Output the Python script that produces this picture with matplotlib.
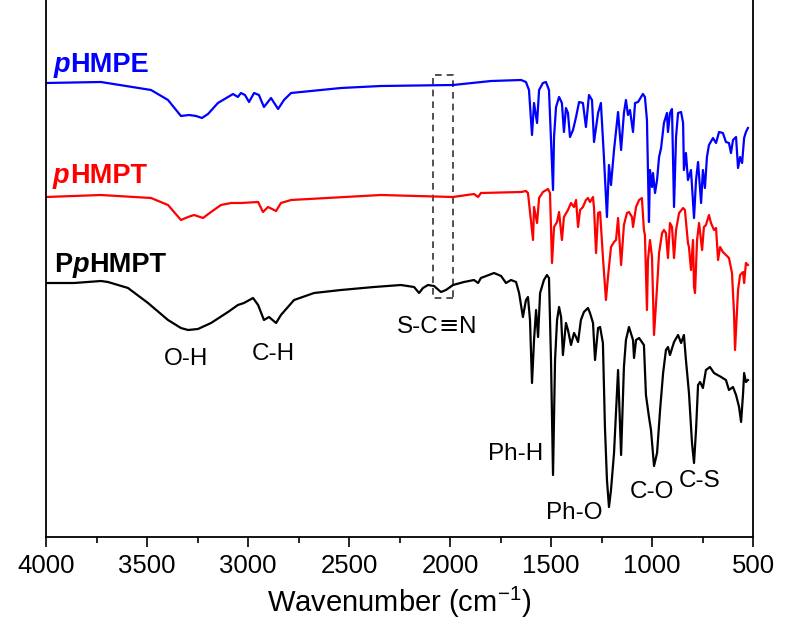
import matplotlib
matplotlib.use('Agg')
import matplotlib.pyplot as plt
from matplotlib.patches import Rectangle

plt.rcParams['font.family'] = ['Liberation Sans', 'DejaVu Sans']
plt.rcParams['mathtext.fontset'] = 'custom'
plt.rcParams['mathtext.rm'] = 'Liberation Sans'

# FTIR spectra, stacked (arbitrary transmittance units)
wn_phmpe = [4000, 3728, 3480, 3396, 3332, 3292, 3257, 3228, 3198, 3149, 3099, 3074, 3050,
            3035, 3015, 2995, 2970, 2946, 2921, 2886, 2851, 2822, 2787, 2540, 2342, 1985,
            1797, 1648, 1624, 1609, 1594, 1584, 1569, 1559, 1540, 1525, 1510, 1490, 1485,
            1475, 1460, 1446, 1436, 1426, 1416, 1406, 1391, 1376, 1361, 1342, 1327, 1312,
            1297, 1287, 1267, 1253, 1238, 1223, 1213, 1203, 1188, 1168, 1153, 1139, 1129,
            1119, 1109, 1094, 1084, 1069, 1054, 1045, 1035, 1025, 1015, 1010, 1000, 995,
            985, 975, 965, 955, 941, 926, 921, 911, 901, 891, 881, 871, 856, 846, 842, 832,
            822, 807, 792, 782, 772, 757, 748, 738, 728, 718, 698, 683, 668, 649, 634, 619,
            609, 599, 584, 574, 564, 554, 544, 535, 525]
t_phmpe = [454, 455, 447, 437, 421, 422, 421, 419, 423, 434, 440, 443, 440,
           444, 442, 435, 444, 442, 430, 439, 428, 437, 444, 449, 451, 452,
           456, 457, 455, 447, 402, 434, 414, 447, 454, 455, 447, 347, 400,
           430, 440, 434, 405, 429, 424, 400, 407, 420, 435, 434, 410, 442,
           437, 395, 424, 434, 380, 320, 372, 352, 387, 425, 387, 424, 437,
           422, 427, 405, 434, 435, 440, 443, 440, 417, 315, 367, 350, 364,
           344, 357, 380, 389, 414, 424, 405, 424, 428, 330, 400, 424, 425, 414, 367, 384,
           357, 367, 319, 357, 375, 334, 367, 349, 380, 392, 399, 394, 405, 404, 395, 394,
           384, 397, 400, 369, 380, 374, 399, 405, 409]

wn_phmpt = [4000, 3728, 3480, 3396, 3332, 3297, 3267, 3223, 3183, 3134, 3084, 3035, 2950,
            2926, 2901, 2861, 2837, 2787, 2342, 1985, 1881, 1861, 1847, 1648, 1624, 1614,
            1589, 1584, 1569, 1559, 1540, 1515, 1505, 1495, 1485, 1470, 1460, 1446, 1436,
            1416, 1401, 1386, 1376, 1366, 1356, 1342, 1327, 1317, 1307, 1292, 1287, 1277,
            1267, 1257, 1243, 1228, 1218, 1203, 1188, 1178, 1168, 1153, 1139, 1124, 1114,
            1099, 1094, 1079, 1064, 1050, 1040, 1035, 1025, 1020, 1010, 1000, 990, 975, 965,
            950, 941, 931, 921, 911, 901, 891, 881, 866, 846, 837, 822, 817, 807, 797, 792,
            787, 777, 767, 752, 743, 733, 718, 708, 693, 683, 673, 663, 649, 634, 619, 604,
            594, 589, 574, 564, 549, 544, 535, 525]
t_phmpt = [340, 342, 339, 332, 317, 320, 322, 319, 325, 332, 334, 334, 335,
           325, 330, 326, 334, 337, 342, 340, 343, 340, 344, 345, 346, 344,
           297, 330, 314, 339, 345, 348, 344, 274, 310, 315, 325, 297, 320,
           327, 334, 330, 337, 310, 327, 330, 337, 339, 335, 340, 329, 284,
           324, 325, 280, 237, 260, 290, 295, 297, 319, 272, 312, 324, 325,
           320, 310, 330, 337, 339, 307, 302, 227, 277, 297, 280, 202, 250, 284,
           304, 307, 304, 279, 314, 310, 279, 307, 324, 329, 327, 294, 290, 267, 297, 250,
           244, 297, 314, 287, 310, 312, 322, 314, 307, 309, 277, 290, 285, 282, 279, 264,
           224, 187, 247, 262, 265, 254, 274, 272]

wn_pphmpt = [4000, 3861, 3728, 3693, 3594, 3495, 3396, 3332, 3297, 3248, 3183, 3099, 3050,
             3020, 2975, 2950, 2921, 2896, 2861, 2837, 2772, 2673, 2540, 2376, 2243, 2178,
             2153, 2134, 2109, 2079, 2045, 2020, 1985, 1931, 1881, 1861, 1847, 1782, 1747,
             1723, 1698, 1673, 1658, 1639, 1624, 1614, 1604, 1594, 1584, 1574, 1564, 1554,
             1535, 1520, 1510, 1500, 1490, 1480, 1470, 1460, 1450, 1441, 1426, 1416, 1401,
             1386, 1376, 1366, 1352, 1337, 1317, 1307, 1292, 1282, 1267, 1257, 1243, 1233,
             1223, 1213, 1203, 1188, 1168, 1153, 1139, 1129, 1114, 1094, 1089, 1079, 1064,
             1040, 1030, 1015, 1005, 990, 975, 960, 945, 931, 921, 911, 891, 871, 856, 842,
             832, 817, 802, 792, 782, 772, 762, 748, 733, 713, 693, 658, 634, 619, 599, 584,
             569, 559, 549, 544, 535, 525]
t_pphmpt = [254, 254, 256, 255, 249, 234, 217, 209, 207, 208, 214, 225, 232,
            234, 239, 232, 217, 220, 214, 222, 237, 244, 247, 250, 252, 250,
            244, 249, 252, 251, 245, 247, 252, 255, 257, 254, 259, 264, 261,
            254, 257, 255, 244, 220, 237, 240, 217, 154, 197, 227, 200, 244,
            257, 262, 259, 177, 62, 177, 217, 230, 220, 182, 214, 207, 192,
            204, 200, 195, 217, 225, 229, 224, 214, 177, 209, 210, 194, 110,
            57, 30, 47, 84, 167, 82, 170, 197, 210, 197, 179, 197, 199,
            192, 142, 120, 107, 71, 84, 127, 164, 187, 190, 182, 195, 202, 194, 202,
            177, 144, 94, 74, 107, 152, 155, 149, 167, 170, 164, 160, 157, 147, 150, 142,
            130, 115, 144, 164, 155, 157]

names = [('p', 'HMPE'), ('p', 'HMPT'), ('P', 'p', 'HMPT')]
colors = ['#0000ff', '#ff0000', '#000000']

bands = ['O-H', 'C-H', 'Ph-H', 'Ph-O', 'C-O', 'C-S']
band_x = [3307, 2876, 1673, 1386, 1000, 762]
band_y = [178, 183, 83, 24, 45, 56]

box_x = (1985, 2085)
box_y = (239, 462)

fig = plt.figure(figsize=(7.86, 6.28), dpi=100)
ax = fig.add_axes([46 / 786, 91 / 628, 707 / 786, 537 / 628])

for wn, t, c in zip([wn_phmpe, wn_phmpt, wn_pphmpt], [t_phmpe, t_phmpt, t_pphmpt], colors):
    ax.plot(wn, t, color=c, lw=1.6)

ax.set_xlim(4000, 500)
ax.set_ylim(0, 537)
ax.set_xticks(range(4000, 499, -500))
ax.set_xticks(range(3750, 500, -500), minor=True)
ax.set_yticks([])
ax.tick_params(axis='x', which='major', direction='out', length=7, width=1.2, labelsize=18.5, pad=5)
ax.tick_params(axis='x', which='minor', direction='out', length=4, width=1.2)
ax.spines['top'].set_visible(False)
for s in ['left', 'right', 'bottom']:
    ax.spines[s].set_linewidth(1.3)
ax.set_xlabel('Wavenumber (cm$^{\\mathrm{-1}}$)', fontsize=21, labelpad=5)

# trace names: italic bold "p" inside bold text
label_pos = [(3962, 465), (3965, 354), (3960, 265)]
for (x, y), parts, c in zip(label_pos, names, colors):
    prev = None
    for part in parts:
        style = 'italic' if part == 'p' else 'normal'
        if prev is None:
            prev = ax.text(x, y, part, color=c, fontsize=19.5, fontweight='bold',
                           style=style, ha='left', va='baseline')
        else:
            prev = ax.annotate(part, xy=(1, 0), xycoords=prev, color=c, fontsize=19.5,
                               fontweight='bold', style=style, ha='left', va='bottom')

for lab, x, y in zip(bands, band_x, band_y):
    ax.text(x, y, lab, fontsize=17.5, ha='center', va='center')

# S-C≡N with a wide triple bond sign
t1 = ax.text(2262, 210, 'S-C', fontsize=17.5, ha='left', va='center')
t2 = ax.annotate('\u2261', xy=(1, 0), xycoords=t1, fontsize=17.5, family='DejaVu Sans',
                 ha='left', va='bottom')
ax.annotate('N', xy=(1, 0), xycoords=t2, fontsize=17.5, ha='left', va='bottom')

ax.add_patch(Rectangle((box_x[0], box_y[0]), box_x[1] - box_x[0], box_y[1] - box_y[0],
                       fill=False, ec='#333333', lw=1.2, ls=(0, (4, 3))))

fig.savefig('out.png', dpi=100)
